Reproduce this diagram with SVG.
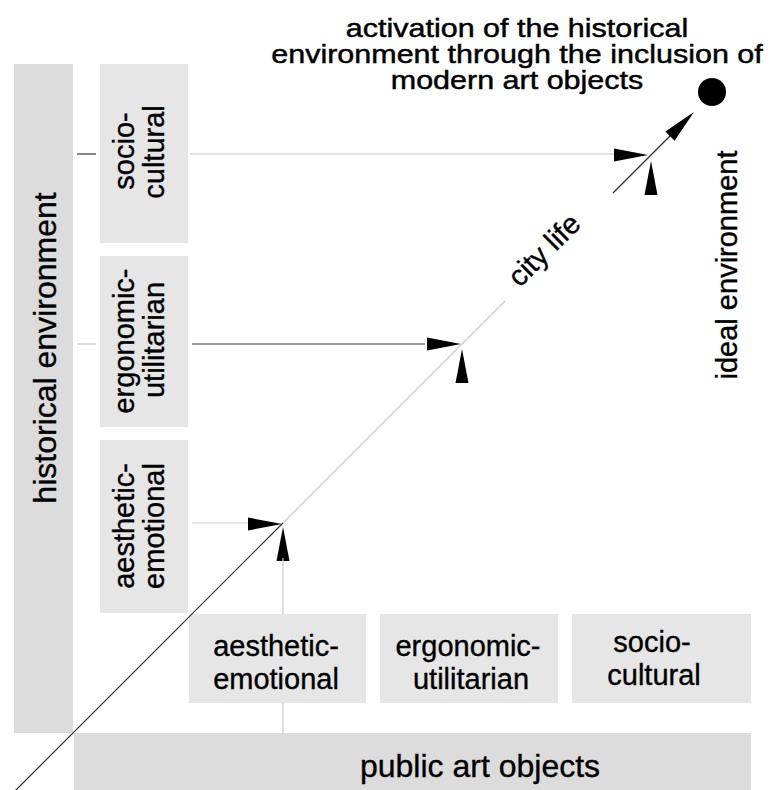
<svg xmlns="http://www.w3.org/2000/svg" width="771" height="790" viewBox="0 0 771 790">
<style>
text{font-family:"Liberation Sans",Arial,sans-serif;fill:#000;stroke:#000;stroke-width:0.35}
.bar{fill:#dcdcdc}
.box{fill:#e6e6e6}
.lbl{font-size:29px;text-anchor:middle}
.big{font-size:32px;text-anchor:middle}
.ttl{font-size:25px;text-anchor:middle;stroke-width:0.45}
.lt{stroke:#c8c8c8;stroke-width:1.2;fill:none}
.dk{stroke:#333;stroke-width:1.2;fill:none}
</style>
<defs>
<path id="ah" d="M0,0 L-34,-6.5 L-34,6.5 Z" fill="#000"/>
</defs>
<rect width="771" height="790" fill="#fff"/>

<g id="historical-environment">
<rect class="bar" x="14" y="64" width="59" height="669"/>
<text class="big" font-size="33" transform="translate(56,348) rotate(-90)">historical environment</text>
</g>
<g id="public-art-objects">
<rect class="bar" x="74" y="733" width="677" height="57"/>
<text class="big" x="480" y="777">public art objects</text>
</g>

<g id="he-socio-cultural">
<rect class="box" x="100" y="64" width="88" height="179"/>
<text class="lbl" transform="translate(134,151) rotate(-90)">socio-</text>
<text class="lbl" transform="translate(164,152) rotate(-90)">cultural</text>
</g>
<g id="he-ergonomic-utilitarian">
<rect class="box" x="100" y="256" width="88" height="171"/>
<text class="lbl" transform="translate(134,341) rotate(-90)">ergonomic-</text>
<text class="lbl" transform="translate(164,340) rotate(-90)">utilitarian</text>
</g>
<g id="he-aesthetic-emotional">
<rect class="box" x="100" y="440" width="88" height="173"/>
<text class="lbl" transform="translate(134,526) rotate(-90)">aesthetic-</text>
<text class="lbl" transform="translate(164,526) rotate(-90)">emotional</text>
</g>

<g id="pa-aesthetic-emotional">
<rect class="box" x="189" y="614" width="177" height="89"/>
<text class="lbl" x="276" y="656">aesthetic-</text>
<text class="lbl" x="276" y="689">emotional</text>
</g>
<g id="pa-ergonomic-utilitarian">
<rect class="box" x="380" y="614" width="178" height="89"/>
<text class="lbl" x="468" y="656">ergonomic-</text>
<text class="lbl" x="471" y="689">utilitarian</text>
</g>
<g id="pa-socio-cultural">
<rect class="box" x="572" y="614" width="179" height="89"/>
<text class="lbl" x="652" y="652">socio-</text>
<text class="lbl" x="654" y="685">cultural</text>
</g>

<g id="ideal-environment">
<circle cx="712" cy="92" r="14" fill="#000"/>
<g transform="translate(517,0) scale(1.22,1)">
<text class="ttl" x="0" y="37">activation of the historical</text>
<text class="ttl" x="0" y="63">environment through the inclusion of</text>
<text class="ttl" x="0" y="89">modern art objects</text>
</g>
<text class="lbl" font-size="30" transform="translate(737,265) rotate(-90)">ideal environment</text>
</g>

<g id="city-life">
<text font-size="29" text-anchor="middle" transform="translate(551,257) rotate(-45)">city life</text>
</g>

<g id="connectors">
<line class="dk" x1="10" y1="796" x2="283" y2="523"/>
<line class="lt" x1="283" y1="523" x2="505" y2="301"/>
<line class="dk" x1="613" y1="193" x2="680" y2="126"/>
<use href="#ah" transform="translate(694,112) rotate(-45)"/>

<line class="dk" x1="77" y1="154" x2="96" y2="154"/>
<line class="lt" x1="190" y1="154" x2="620" y2="154"/>
<use href="#ah" transform="translate(648,155)"/>
<use href="#ah" transform="translate(651,161) rotate(-90)"/>

<line class="lt" x1="77" y1="344" x2="96" y2="344"/>
<line class="dk" x1="192" y1="344" x2="425" y2="344"/>
<use href="#ah" transform="translate(461,344)"/>
<use href="#ah" transform="translate(462,349) rotate(-90)"/>

<line class="lt" x1="192" y1="523" x2="250" y2="523"/>
<use href="#ah" transform="translate(282,524)"/>
<use href="#ah" transform="translate(283,527) rotate(-90)"/>
<line class="lt" x1="283" y1="558" x2="283" y2="614"/>
<line class="lt" x1="283" y1="703" x2="283" y2="733"/>
</g>
</svg>
